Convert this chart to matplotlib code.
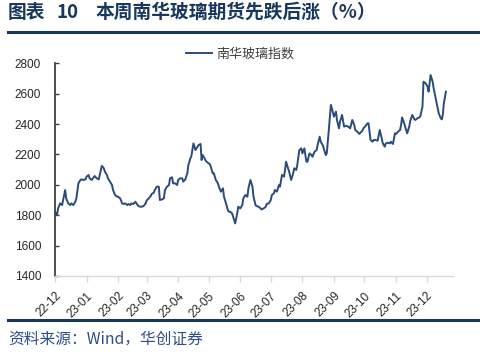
import matplotlib
matplotlib.use("Agg")
import matplotlib.pyplot as plt
import matplotlib.dates as mdates
import pandas as pd
from matplotlib.lines import Line2D

plt.rcParams['font.family'] = ['Liberation Sans', 'Noto Sans CJK SC', 'DejaVu Sans']

title_label = "图表"
title_number = "10"
title_text = "本周南华玻璃期货先跌后涨（%）"
source = "资料来源：Wind，华创证券"
series_name = "南华玻璃指数"
start_date = "2022-12-01"
end_date = "2023-12-27"

days = [0, 2, 3, 5, 7, 8, 10, 11, 13, 15, 16, 18, 20, 21, 23, 25, 26, 28, 30, 31,
        33, 34, 36, 38, 39, 41, 43, 44, 46, 48, 49, 51, 52, 54, 56, 57, 59, 61, 62, 64,
        66, 67, 69, 71, 72, 74, 75, 77, 79, 80, 82, 84, 85, 87, 89, 90, 92, 94, 95, 97,
        98, 100, 102, 103, 105, 107, 108, 110, 112, 113, 115, 116, 118, 120, 121, 123, 125, 126, 128, 130,
        131, 133, 134, 136, 138, 139, 141, 143, 144, 145, 147, 148, 150, 152, 153, 155, 156, 158, 160, 161,
        163, 165, 166, 168, 170, 171, 172, 174, 175, 177, 179, 180, 182, 184, 185, 187, 189, 190, 192, 194,
        195, 197, 198, 200, 202, 203, 205, 207, 208, 210, 212, 213, 215, 216, 218, 220, 221, 223, 225, 226,
        227, 229, 230, 232, 234, 235, 237, 238, 240, 242, 243, 245, 247, 248, 250, 252, 253, 255, 257, 258,
        260, 261, 263, 265, 266, 267, 269, 271, 272, 274, 276, 277, 279, 280, 282, 284, 285, 287, 289, 290,
        292, 294, 295, 297, 299, 300, 302, 303, 305, 307, 308, 310, 312, 313, 315, 317, 318, 319, 321, 322,
        324, 325, 327, 329, 330, 332, 334, 335, 337, 339, 340, 341, 343, 344, 346, 348, 349, 351, 353, 354,
        356, 358, 359, 361, 362, 364, 366, 367, 369, 371, 372, 374, 376, 377, 379, 380, 381, 382, 384]

values = [1823, 1801, 1845, 1878, 1867, 1900, 1966, 1911, 1878, 1867, 1878, 1867, 1889, 1911, 2010, 2032, 2036, 2032, 2036, 2054,
          2065, 2043, 2032, 2050, 2058, 2043, 2036, 2065, 2125, 2109, 2087, 2065, 2043, 2021, 1999, 1966, 1933, 1922, 1922, 1911,
          1878, 1874, 1878, 1867, 1874, 1867, 1878, 1874, 1889, 1878, 1860, 1856, 1856, 1860, 1878, 1896, 1911, 1926, 1940, 1948,
          1966, 1988, 1988, 1900, 1904, 1911, 1966, 1988, 1999, 2043, 2050, 2010, 2010, 1999, 2032, 2043, 2043, 2021, 2036, 2076,
          2130, 2174, 2190, 2273, 2229, 2240, 2262, 2269, 2163, 2196, 2174, 2159, 2146, 2137, 2120, 2076, 2076, 2032, 2010, 1988,
          1955, 1977, 1922, 1878, 1830, 1823, 1823, 1812, 1790, 1746, 1812, 1856, 1845, 1867, 1911, 1933, 1922, 1977, 2032, 1988,
          1922, 1867, 1860, 1856, 1845, 1838, 1845, 1856, 1874, 1878, 1900, 1933, 1944, 1966, 1955, 1999, 1988, 2065, 2054, 2098,
          2152, 2109, 2087, 2032, 2076, 2109, 2098, 2130, 2229, 2240, 2207, 2240, 2152, 2152, 2207, 2196, 2185, 2218, 2229, 2262,
          2317, 2284, 2262, 2218, 2196, 2207, 2361, 2526, 2504, 2449, 2482, 2427, 2372, 2416, 2460, 2383, 2387, 2387, 2378, 2372,
          2427, 2394, 2361, 2350, 2335, 2343, 2356, 2372, 2387, 2405, 2405, 2295, 2284, 2295, 2295, 2291, 2328, 2361, 2306, 2273,
          2251, 2273, 2277, 2273, 2284, 2269, 2339, 2335, 2350, 2361, 2394, 2444, 2405, 2383, 2339, 2383, 2421, 2460, 2432, 2427,
          2438, 2444, 2453, 2515, 2679, 2669, 2647, 2613, 2723, 2679, 2635, 2569, 2504, 2471, 2438, 2431, 2460, 2537, 2613]

y_ticks = [1400, 1600, 1800, 2000, 2200, 2400, 2600, 2800]

dates = pd.Timestamp(start_date) + pd.to_timedelta(days, unit="D")

navy = "#17375E"
line_color = "#2A4B7C"
W, H = 482, 354

fig = plt.figure(figsize=(4.82, 3.54), dpi=100)
ax = fig.add_axes([55/W, 1-276/H, (453-55)/W, (276-63.3)/H])

ax.plot(dates, values, color=line_color, linewidth=1.4)

ax.set_ylim(1400, 2800)
ax.set_yticks(y_ticks)
ax.set_xlim(pd.Timestamp(start_date), pd.Timestamp(end_date))
ax.xaxis.set_major_locator(mdates.MonthLocator())
ax.xaxis.set_major_formatter(mdates.DateFormatter("%y-%m"))

for s in ["top", "right"]:
    ax.spines[s].set_visible(False)
ax.spines["left"].set_color("#404040")
ax.spines["left"].set_linewidth(1.3)
ax.spines["bottom"].set_color("#d9d9d9")
ax.spines["bottom"].set_linewidth(1.0)

ax.tick_params(axis="y", direction="in", length=3, width=1, color="#404040",
               labelsize=8.5, labelcolor="#262626", pad=10)
ax.tick_params(axis="x", direction="out", length=4, width=1, color="#d9d9d9",
               labelsize=8.5, labelcolor="#262626", pad=6)
for lbl in ax.get_xticklabels():
    lbl.set_rotation(45)
    lbl.set_horizontalalignment("right")
    lbl.set_rotation_mode("anchor")

handle = Line2D([], [], color=line_color, linewidth=1.4)
fig.legend([handle], [series_name], loc="center", bbox_to_anchor=(240/W, 1-54/H),
           frameon=False, handlelength=2.0, handletextpad=0.35,
           prop={"family": ["Noto Sans CJK SC"], "size": 9.4}, labelcolor="#404040")

cjk = ["Noto Sans CJK SC", "DejaVu Sans"]
fig.text(8/W, 1-12/H, title_label, ha="left", va="center", fontsize=13.5,
         fontweight="bold", color=navy, family=cjk)
fig.text(57/W, 1-12/H, title_number, ha="left", va="center", fontsize=13.5,
         fontweight="bold", color=navy, family=cjk)
fig.text(96/W, 1-12/H, title_text, ha="left", va="center", fontsize=13.5,
         fontweight="bold", color=navy, family=cjk)
fig.add_artist(Line2D([8/W, 478/W], [1-32/H, 1-32/H], color=navy, linewidth=2.2,
                      transform=fig.transFigure))
fig.add_artist(Line2D([8/W, 478/W], [1-320/H, 1-320/H], color=navy, linewidth=2.2,
                      transform=fig.transFigure))
fig.text(8/W, 1-339/H, source, ha="left", va="center", fontsize=11.3,
         style="italic", color="#2C4F8A", family=cjk)

fig.savefig("out.png", dpi=100)
